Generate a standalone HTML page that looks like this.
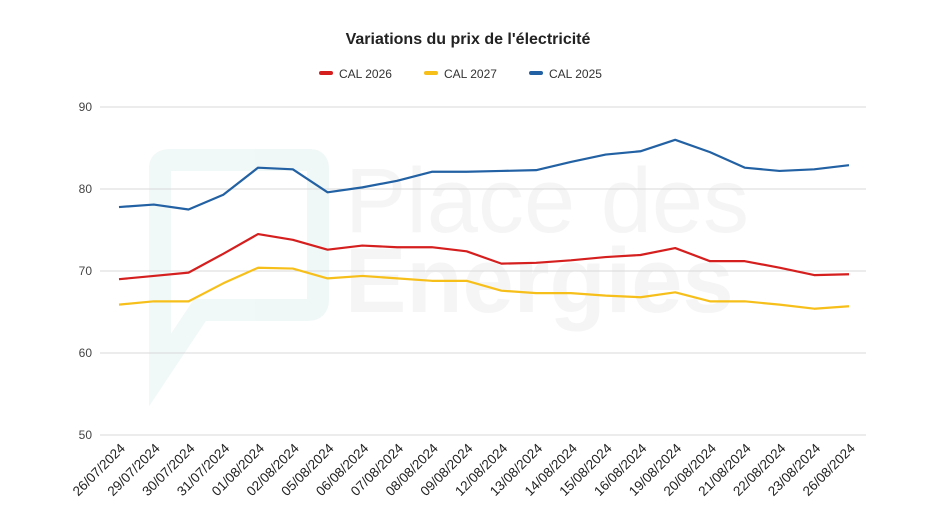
<!DOCTYPE html>
<html><head><meta charset="utf-8"><style>
body{margin:0;background:#fff;font-family:"Liberation Sans",sans-serif}
svg text{font-family:"Liberation Sans",sans-serif}
</style></head><body>
<svg id="c" width="936" height="526" viewBox="0 0 936 526">
<rect width="936" height="526" fill="#fff"/>
<g opacity="0.5">
<path d="M170 160 L310 160 Q318 160 318 168 L318 300 Q318 310 308 310 L200 310 L160 370 L160 168 Q160 160 170 160 Z" fill="none" stroke="#e3f1f1" stroke-width="22"/>
<text x="345" y="232" font-size="92" fill="#ececec">Place des</text>
<text x="345" y="312" font-size="92" font-weight="bold" fill="#ececec">Energies</text>
</g>
<text x="468" y="44" text-anchor="middle" font-size="16" font-weight="bold" fill="#222">Variations du prix de l'électricité</text>
<g id="legend"></g>
<g id="grid"></g>
<g id="series"></g>
<g id="xlabels"></g>
</svg>
<script>
const categories=["26/07/2024","29/07/2024","30/07/2024","31/07/2024","01/08/2024","02/08/2024","05/08/2024","06/08/2024","07/08/2024","08/08/2024","09/08/2024","12/08/2024","13/08/2024","14/08/2024","15/08/2024","16/08/2024","19/08/2024","20/08/2024","21/08/2024","22/08/2024","23/08/2024","26/08/2024"];
const cal2026=[69.0,69.4,69.8,72.1,74.5,73.8,72.6,73.1,72.9,72.9,72.4,70.9,71.0,71.3,71.7,71.95,72.8,71.2,71.2,70.4,69.5,69.6];
const cal2027=[65.9,66.3,66.3,68.5,70.4,70.3,69.1,69.4,69.1,68.8,68.8,67.6,67.3,67.3,67.0,66.8,67.4,66.3,66.3,65.9,65.4,65.7];
const cal2025=[77.8,78.1,77.5,79.3,82.6,82.4,79.6,80.2,81.0,82.1,82.1,82.2,82.3,83.3,84.2,84.6,86.0,84.5,82.6,82.2,82.4,82.9];
const yTicks=[50,60,70,80,90];
const seriesNames=["CAL 2026","CAL 2027","CAL 2025"];
const NS="http://www.w3.org/2000/svg";
const x0=119,x1=849,yTop=107,yBot=435,ymin=50,ymax=90;
const xs=i=>x0+i*(x1-x0)/(categories.length-1);
const ys=v=>yBot-(v-ymin)/(ymax-ymin)*(yBot-yTop);
function mk(t,a,p){const e=document.createElementNS(NS,t);for(const k in a)e.setAttribute(k,a[k]);p.appendChild(e);return e;}
const grid=document.getElementById('grid');
yTicks.forEach(v=>{
 const l=mk('line',{x1:100,x2:866,y1:ys(v),y2:ys(v),stroke:'#d9d9d9','stroke-width':1},grid);
 
 
 const t=mk('text',{x:92,y:ys(v)+4,'text-anchor':'end','font-size':12,fill:'#444'},grid);t.textContent=v;
 
 
});
const xl=document.getElementById('xlabels');
categories.forEach((c,i)=>{
 const ax=xs(i)+7,ay=449;
 const t=mk('text',{x:ax,y:ay,'text-anchor':'end','font-size':13.5,fill:'#222',transform:`rotate(-45 ${ax} ${ay})`},xl);t.textContent=c;
 
 
});
const sd=[[cal2026,'#d51f1f'],[cal2027,'#f7bf1a'],[cal2025,'#2261a3']];
const sg=document.getElementById('series');
sd.forEach(([d,col],k)=>{
 const p=mk('polyline',{points:d.map((v,i)=>xs(i)+','+ys(v)).join(' '),fill:'none',stroke:col,'stroke-width':2.2,'stroke-linejoin':'round'},sg);
 
 
});
const lg=document.getElementById('legend');
const lx=[319,424,529];
seriesNames.forEach((n,k)=>{
 const g=mk('g',{},lg);
 
 
 mk('rect',{x:lx[k],y:71,width:14,height:4,rx:2,fill:sd[k][1]},g);
 const t=mk('text',{x:lx[k]+20,y:78,'font-size':12,fill:'#333'},g);t.textContent=n;
});
</script>
</body></html>
